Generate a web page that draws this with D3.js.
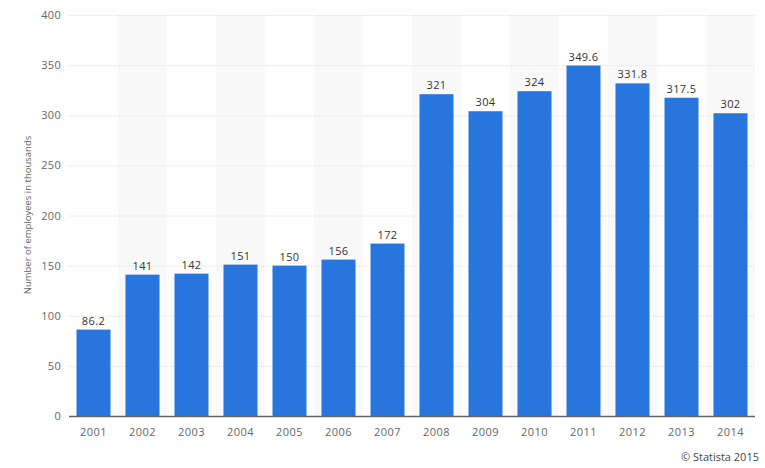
<!DOCTYPE html>
<html><head><meta charset="utf-8">
<script src="https://cdn.jsdelivr.net/npm/d3@7"></script>
<style>body{margin:0;background:#fff}svg{display:block}text{font-family:"Open Sans",Arial,sans-serif}</style>
</head><body>
<script>
const years = ["2001","2002","2003","2004","2005","2006","2007","2008","2009","2010","2011","2012","2013","2014"];
const values = [86.2,141,142,151,150,156,172,321,304,324,349.6,331.8,317.5,302];
const valueLabels = ["86.2","141","142","151","150","156","172","321","304","324","349.6","331.8","317.5","302"];
const yTicks = [0,50,100,150,200,250,300,350,400];

const W=765,H=468;
const svg=d3.select("body").append("svg").attr("width",W).attr("height",H);
const x=d3.scaleBand().domain(years).range([69,755]).paddingInner(0.306).paddingOuter(0.153);
const y=d3.scaleLinear().domain([0,400]).range([416,15]);
const step=x.step();

// alternating bands
svg.append("g").selectAll("rect").data(years.filter((d,i)=>i%2===1)).join("rect")
  .attr("x",d=>x(d)-(step-x.bandwidth())/2).attr("width",step)
  .attr("y",y(400)).attr("height",y(0)-y(400)).attr("fill","#f9f9f9");

// grid
svg.append("g").selectAll("line").data(yTicks.filter(t=>t>0)).join("line")
  .attr("x1",69).attr("x2",755).attr("y1",d=>y(d)+0.5).attr("y2",d=>y(d)+0.5)
  .attr("stroke","#e0e0e0").attr("stroke-dasharray","1,1");

// y labels
svg.append("g").selectAll("text").data(yTicks).join("text")
  .attr("x",61).attr("y",d=>y(d)+4).attr("text-anchor","end")
  .attr("font-size",11).attr("fill","#666").attr("letter-spacing","0.3")
  .text(d=>d);

// bars
svg.append("g").selectAll("rect").data(values).join("rect")
  .attr("x",(d,i)=>x(years[i])).attr("width",x.bandwidth())
  .attr("y",d=>y(d)).attr("height",d=>y(0)-y(d)).attr("fill","#2876dd");

// value labels
svg.append("g").selectAll("text").data(values).join("text")
  .attr("x",(d,i)=>x(years[i])+x.bandwidth()/2).attr("y",d=>y(d)-5)
  .attr("text-anchor","middle").attr("font-size",11).attr("fill","#333").attr("letter-spacing","0.4")
  .text((d,i)=>valueLabels[i]);

// baseline
svg.append("line").attr("x1",69).attr("x2",755).attr("y1",y(0)+0.5).attr("y2",y(0)+0.5)
  .attr("stroke","#666").attr("stroke-width",1.5);

// x labels
svg.append("g").selectAll("text").data(years).join("text")
  .attr("x",d=>x(d)+x.bandwidth()/2).attr("y",436)
  .attr("text-anchor","middle").attr("font-size",11).attr("fill","#666").attr("letter-spacing","0.5")
  .text(d=>d);

// y title
svg.append("text").attr("transform","translate(31,215) rotate(-90)")
  .attr("text-anchor","middle").attr("font-size",9.5).attr("fill","#666")
  .text("Number of employees in thousands");

// credit
svg.append("text").attr("x",759).attr("y",461).attr("text-anchor","end")
  .attr("font-size",11).attr("fill","#444").text("© Statista 2015");
</script>
</body></html>
